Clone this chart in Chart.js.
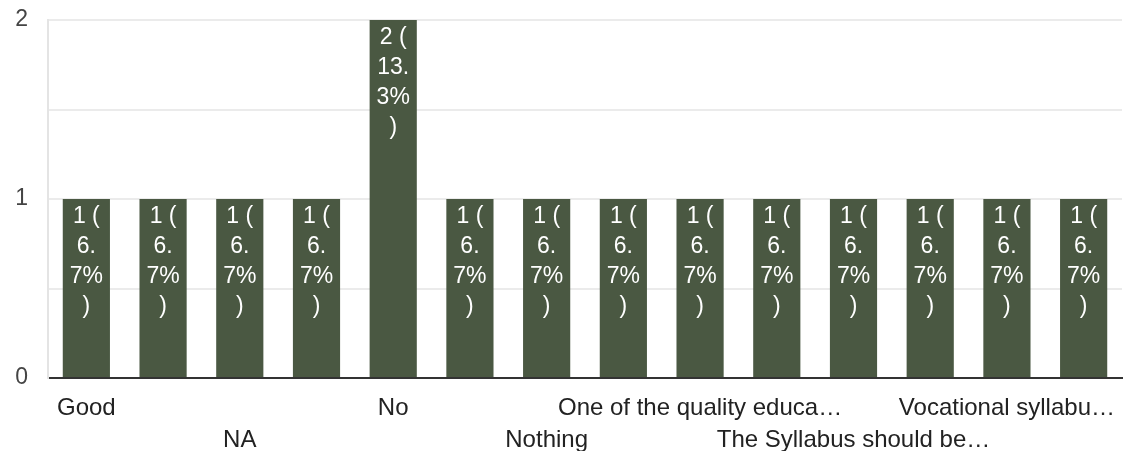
<!DOCTYPE html>
<html>
<head>
<meta charset="utf-8">
<script src="https://cdn.jsdelivr.net/npm/chart.js@4/dist/chart.umd.min.js"></script>
<style>
  html, body { margin: 0; padding: 0; background: #fff; }
  canvas { display: block; }
</style>
</head>
<body>
<canvas id="canvas" width="1131" height="451"></canvas>
<script>
"use strict";

// Respuestas (solo se ven las etiquetas pares en la imagen)
const categories = [
  "Good", "Good syllabus", "NA", "Nice", "No", "No changes", "Nothing",
  "Ok", "One of the quality educa…", "Satisfied", "The Syllabus should be…",
  "Very good", "Vocational syllabu…", "Yes"
];
const counts = [1, 1, 1, 1, 2, 1, 1, 1, 1, 1, 1, 1, 1, 1];
const totalResponses = 15;
const yTicks = [0, 1, 2];

const FONT = '"Liberation Sans", Arial, sans-serif';
const BAR_COLOR = '#4a5842';

// Etiqueta dentro de la barra, partida como en el original
function barLabelLines(v) {
  const pct = (v / totalResponses * 100).toFixed(1);
  const [intPart, decPart] = pct.split('.');
  return [`${v} (`, `${intPart}.`, `${decPart}%`, ')'];
}

const barLabels = {
  id: 'barLabels',
  afterDatasetsDraw(chart) {
    const ctx = chart.ctx;
    const meta = chart.getDatasetMeta(0);
    ctx.save();
    ctx.fillStyle = '#ffffff';
    ctx.font = `23px ${FONT}`;
    ctx.textAlign = 'center';
    ctx.textBaseline = 'middle';
    meta.data.forEach((bar, i) => {
      const lines = barLabelLines(counts[i]);
      lines.forEach((line, j) => {
        ctx.fillText(line, bar.x, bar.y + 18 + j * 30);
      });
    });
    ctx.restore();
  }
};

const ctx = document.getElementById('canvas').getContext('2d');

new Chart(ctx, {
  type: 'bar',
  data: {
    labels: categories,
    datasets: [{
      data: counts,
      backgroundColor: BAR_COLOR,
      borderWidth: 0,
      categoryPercentage: 1,
      barPercentage: 0.615
    }]
  },
  options: {
    responsive: false,
    animation: false,
    layout: { autoPadding: false, padding: { top: 20, right: 9, left: 0, bottom: 0 } },
    plugins: {
      legend: { display: false },
      tooltip: { enabled: false }
    },
    scales: {
      x: {
        grid: { display: false, drawTicks: false },
        border: { color: '#333333', width: 2 },
        ticks: {
          autoSkip: false,
          maxRotation: 0,
          minRotation: 0,
          padding: 14,
          color: '#222222',
          font: { family: FONT, size: 24, lineHeight: 1.34 },
          callback: function (value, index) {
            const label = categories[index];
            if (index % 4 === 0) return label;
            if (index % 4 === 2) return ['', label];
            return '';
          }
        },
        afterFit: function (scale) { scale.height = 73; }
      },
      y: {
        min: 0,
        max: 2,
        grid: { color: '#ebebeb', lineWidth: 2, drawTicks: false },
        border: { color: '#e4e4e4', width: 2 },
        ticks: {
          stepSize: 0.5,
          padding: 20,
          color: '#444444',
          font: { family: FONT, size: 23 },
          callback: function (value) {
            return yTicks.includes(value) ? value : '';
          }
        },
        afterFit: function (scale) {
          scale.width = 48;
          // sin esto el padding de los ticks empuja el área hacia abajo
          scale.paddingTop = 0;
          scale.paddingBottom = 0;
        }
      }
    }
  },
  plugins: [barLabels]
});
</script>
</body>
</html>
